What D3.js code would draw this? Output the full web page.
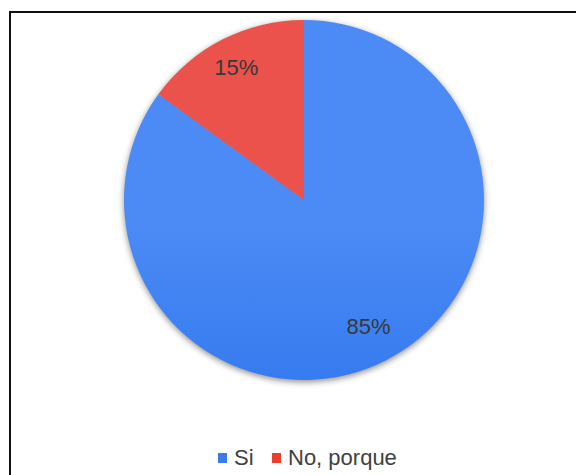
<!DOCTYPE html>
<html>
<head>
<meta charset="utf-8">
<script src="https://cdn.jsdelivr.net/npm/d3@7"></script>
<style>
  html, body { margin: 0; padding: 0; background: #fff; }
  svg { display: block; }
</style>
</head>
<body>
<svg id="chart" width="576" height="475"></svg>
<script>
// Survey answers and their shares (percent)
const categories = ["Si", "No, porque"];
const values = [85, 15];
const labels = ["85%", "15%"];

// Gradient stops per slice (top, middle, bottom colour)
const colorTop = ["#4C8BF5", "#EB524C"];
const colorMid = ["#367BEF", "#E93F32"];
const colorBottom = ["#2164DA", "#E43226"];

const W = 576, H = 475;
const cx = 304, cy = 200, radius = 180;
const labelRadius = [142, 149];

const svg = d3.select("#chart");
const defs = svg.append("defs");

// Soft drop shadow under the pie
const shadow = defs.append("filter")
  .attr("id", "pieShadow")
  .attr("color-interpolation-filters", "sRGB")
  .attr("x", "-20%").attr("y", "-20%")
  .attr("width", "140%").attr("height", "140%");
shadow.append("feDropShadow")
  .attr("dx", 0).attr("dy", 2)
  .attr("stdDeviation", 3)
  .attr("flood-color", "#000")
  .attr("flood-opacity", 0.45);

categories.forEach((c, i) => {
  const g = defs.append("linearGradient")
    .attr("id", "grad" + i)
    .attr("gradientUnits", "userSpaceOnUse")
    .attr("x1", 0).attr("y1", cy - radius)
    .attr("x2", 0).attr("y2", cy + radius);
  g.append("stop").attr("offset", "0%").attr("stop-color", colorTop[i]);
  g.append("stop").attr("offset", "45%").attr("stop-color", colorMid[i]);
  g.append("stop").attr("offset", "100%").attr("stop-color", colorBottom[i]);
});

// Frame (top and left edges visible within the window)
svg.append("rect")
  .attr("x", 10).attr("y", 12)
  .attr("width", W + 20).attr("height", H + 20)
  .attr("fill", "none")
  .attr("stroke", "#111")
  .attr("stroke-width", 2);

const pie = d3.pie().sort(null).value(d => d.value);
const data = categories.map((c, i) => ({ name: c, value: values[i], label: labels[i], i }));
const arcs = pie(data);

const arc = d3.arc().innerRadius(0).outerRadius(radius);
const labelPos = d => d3.arc()
  .innerRadius(labelRadius[d.data.i])
  .outerRadius(labelRadius[d.data.i])
  .centroid(d);

const g = svg.append("g").attr("transform", `translate(${cx},${cy})`);

const slices = g.append("g").attr("filter", "url(#pieShadow)");
slices.selectAll("path")
  .data(arcs)
  .join("path")
  .attr("d", arc)
  .attr("fill", d => `url(#grad${d.data.i})`);

g.append("g").selectAll("text")
  .data(arcs)
  .join("text")
  .attr("transform", d => `translate(${labelPos(d)})`)
  .attr("text-anchor", "middle")
  .attr("dy", "0.36em")
  .attr("font-family", "Liberation Sans, Arial, sans-serif")
  .attr("font-size", 22)
  .attr("fill", "#383838")
  .text(d => d.data.label);

// Legend
const legend = svg.append("g").attr("transform", "translate(218,465)");
const legendX = [0, 54];
categories.forEach((c, i) => {
  const item = legend.append("g").attr("transform", `translate(${legendX[i]},0)`);
  item.append("rect")
    .attr("x", 0).attr("y", -12)
    .attr("width", 9).attr("height", 10)
    .attr("fill", i === 0 ? "#3A7CEB" : "#E83F2F");
  item.append("text")
    .attr("x", 16).attr("y", 0)
    .attr("font-family", "Liberation Sans, Arial, sans-serif")
    .attr("font-size", 22)
    .attr("fill", "#404040")
    .text(c);
});
</script>
</body>
</html>
